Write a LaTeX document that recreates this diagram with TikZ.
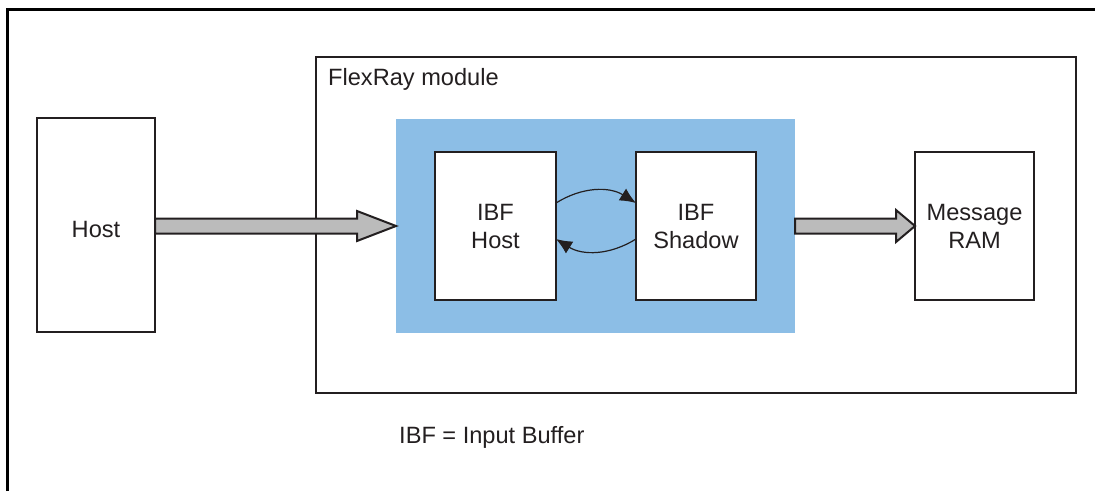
\documentclass[tikz,border=0pt]{standalone}
\usepackage{fontspec}
\setmainfont{Liberation Sans}
\usetikzlibrary{arrows.meta,calc}
\definecolor{ink}{HTML}{231F20}
\definecolor{bufblue}{HTML}{8CBEE6}
\definecolor{arrowgray}{HTML}{BBBBBB}
\tikzset{
  txt/.style={font=\fontsize{23.6}{28}\selectfont, text=ink},
  box/.style={draw=ink, line width=2pt, fill=white, inner sep=0pt, outer sep=0pt, align=center, txt},
  blockarrow/.style={draw=ink, line width=2pt, fill=arrowgray, line join=miter},
  swap/.style={draw=ink, line width=1.2pt, -{Latex[length=16pt,width=14pt]}}
}
\begin{document}
\begin{tikzpicture}[x=1pt,y=-1pt]
\useasboundingbox (0,0) rectangle (1095,491);
% outer frame (top and left only)
\draw[black, line width=3pt] (7,491) -- (7,9.5) -- (1095,9.5);

\node[box, minimum width=118pt, minimum height=214pt] (host) at (96,225) {\raisebox{-4pt}[\height][0pt]{Host}};
\node[box, minimum width=760pt, minimum height=336pt] (flex) at (696,225) {};
\node[txt, anchor=base west, inner sep=0pt] (flexlbl) at (328,85) {FlexRay module};
\node[fill=bufblue, inner sep=0pt, outer sep=0pt, minimum width=399pt, minimum height=214pt] (blue) at (595.5,226) {};
\node[box, minimum width=121pt, minimum height=148pt] (ibfh) at (495.5,226) {IBF\\Host};
\node[box, minimum width=120pt, minimum height=148pt] (ibfs) at (696,226) {IBF\\Shadow};
\node[box, minimum width=119pt, minimum height=148pt] (ram) at (974.5,226) {Message\\RAM};
\node[txt, anchor=base west, inner sep=0pt] (legend) at (399,443.5) {IBF = Input Buffer};

% curved swap arrows
\draw[swap] ([yshift=23pt]ibfh.east) to[bend left=32] ([yshift=23pt]ibfs.west);
\draw[swap] ([yshift=-13pt]ibfs.west) to[bend left=32] ([yshift=-13pt]ibfh.west -| ibfh.east);

% block arrow Host -> buffer
\draw[blockarrow]
  ($(host.east |- blue.west)+(0,-7.5)$) --
  ($(blue.west)+(-39,-7.5)$) --
  ($(blue.west)+(-39,-15)$) --
  (blue.west) --
  ($(blue.west)+(-39,15)$) --
  ($(blue.west)+(-39,7.5)$) --
  ($(host.east |- blue.west)+(0,7.5)$) -- cycle;

% block arrow buffer -> Message RAM
\draw[blockarrow]
  ($(blue.east)+(0,-7.5)$) --
  ($(ram.west)+(-19,-7.5)$) --
  ($(ram.west)+(-19,-16)$) --
  (ram.west) --
  ($(ram.west)+(-19,16)$) --
  ($(ram.west)+(-19,7.5)$) --
  ($(blue.east)+(0,7.5)$) -- cycle;
\end{tikzpicture}
\end{document}
